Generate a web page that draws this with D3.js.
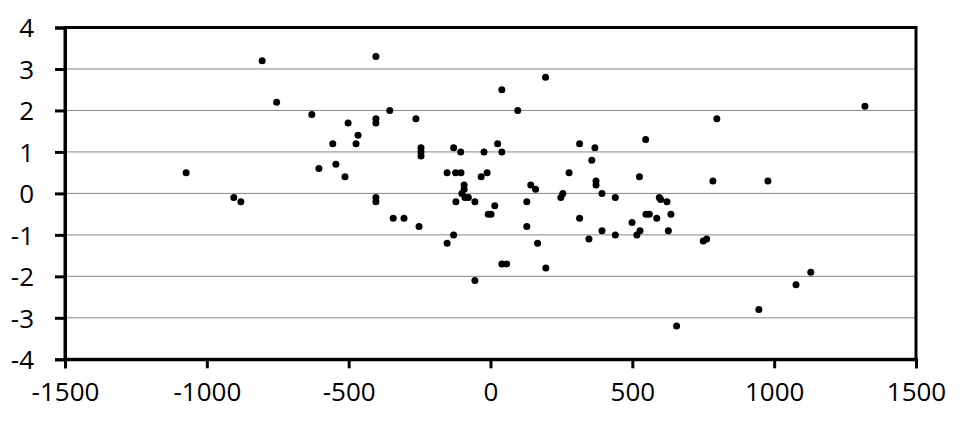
<!DOCTYPE html>
<html><head><meta charset="utf-8">
<script src="https://cdn.jsdelivr.net/npm/d3@7"></script>
<style>html,body{margin:0;padding:0;background:#fff;}</style>
</head><body>
<svg id="chart" width="964" height="426"></svg>
<script>
const xValues = [-1073,-905,-880,-805,-754,-630,-605,-556,-545,-513,-502,-474,-467,-404,-404,-404,-404,-404,-355,-343,-305,-263,-245,-245,-245,-252,-153,-153,-130,-130,-123,-104,-105,-122,-93,-93,-101,-90,-78,-55,-55,-33,-12,-23,-8,2,15,25,40,40,40,57,96,128,128,142,159,166,194,195,248,255,277,314,314,347,357,368,372,372,393,393,440,440,499,516,527,525,547,548,560,586,595,600,622,627,636,656,750,762,784,798,946,978,1077,1129,1320];
const yValues = [0.5,-0.1,-0.2,3.2,2.2,1.9,0.6,1.2,0.7,0.4,1.7,1.2,1.4,3.3,1.8,1.7,-0.1,-0.2,2.0,-0.6,-0.6,1.8,1.1,1.0,0.9,-0.8,0.5,-1.2,1.1,-1.0,0.5,0.5,1.0,-0.2,0.2,0.1,0.0,-0.1,-0.1,-0.2,-2.1,0.4,0.5,1.0,-0.5,-0.5,-0.3,1.2,1.0,2.5,-1.7,-1.7,2.0,-0.2,-0.8,0.2,0.1,-1.2,2.8,-1.8,-0.1,0.0,0.5,1.2,-0.6,-1.1,0.8,1.1,0.3,0.2,0.0,-0.9,-0.1,-1.0,-0.7,-1.0,-0.9,0.4,1.3,-0.5,-0.5,-0.6,-0.1,-0.15,-0.2,-0.9,-0.5,-3.2,-1.15,-1.1,0.3,1.8,-2.8,0.3,-2.2,-1.9,2.1];
const xTicks = [-1500,-1000,-500,0,500,1000,1500];
const yTicks = [-4,-3,-2,-1,0,1,2,3,4];

const svg = d3.select("#chart");
const L = 65, R = 916, T = 27.5, B = 359.3;
const x = d3.scaleLinear().domain([-1500,1500]).range([L,R]);
const y = d3.scaleLinear().domain([-4,4]).range([B,T]);
const font = "'Open Sans', sans-serif";
const fmt = d => String(d);

// gridlines
svg.append("g").selectAll("line").data(yTicks.filter(v => v>-4 && v<4)).join("line")
  .attr("x1",L).attr("x2",R).attr("y1",d=>y(d)).attr("y2",d=>y(d))
  .attr("stroke","#868686").attr("stroke-width",1);

// frame
svg.append("rect").attr("x",L).attr("y",T).attr("width",R-L).attr("height",B-T)
  .attr("fill","none").attr("stroke","#000").attr("stroke-width",3);

// axes
const yAxis = svg.append("g").attr("transform",`translate(${L},0)`)
  .call(d3.axisLeft(y).tickValues(yTicks).tickSize(10).tickPadding(21).tickFormat(fmt));
const xAxis = svg.append("g").attr("transform",`translate(0,${B})`)
  .call(d3.axisBottom(x).tickValues(xTicks).tickSize(9).tickPadding(14).tickFormat(fmt));
[yAxis,xAxis].forEach(g=>{
  g.select(".domain").attr("stroke","#000").attr("stroke-width",3);
  g.selectAll(".tick line").attr("stroke","#000").attr("stroke-width",3);
  g.selectAll("text").attr("font-family",font).attr("font-size",26).attr("fill","#000");
});
yAxis.selectAll("text").attr("dy","0.36em");
xAxis.selectAll("text").attr("dy","0.72em");

// points
svg.append("g").selectAll("circle").data(xValues.map((v,i)=>[v,yValues[i]])).join("circle")
  .attr("cx",d=>x(d[0])).attr("cy",d=>y(d[1])).attr("r",3.5).attr("fill","#000");
</script>
</body></html>
